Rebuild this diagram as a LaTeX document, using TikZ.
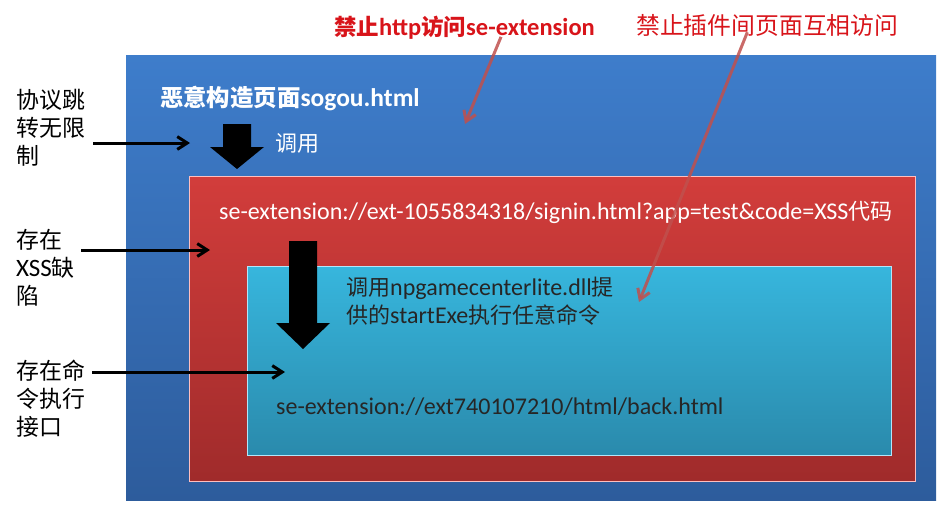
\documentclass[tikz,border=0pt]{standalone}
\usepackage{fontspec}
\setmainfont{Carlito}
\newfontfamily\cjk{Noto Sans CJK SC}[Scale=0.917]
\usetikzlibrary{arrows.meta}
\definecolor{bluetop}{HTML}{3E7DCB}
\definecolor{bluebot}{HTML}{2D5C9C}
\definecolor{redtop}{HTML}{D23D3B}
\definecolor{redbot}{HTML}{A02B2B}
\definecolor{cyantop}{HTML}{37B6DD}
\definecolor{cyanbot}{HTML}{2A8AAC}
\definecolor{warn}{HTML}{D8141A}
\definecolor{pinred}{HTML}{C0504D}
\newcommand{\zh}[1]{{\cjk #1}}
\newcommand{\blk}[4]{\fill (#1-14,#2)--(#1+14,#2)--(#1+14,#3)--(#1+27,#3)--(#1,#4)--(#1-27,#3)--(#1-14,#3)--cycle;}
\tikzset{txt/.style={inner sep=0pt,anchor=west,font=\fontsize{24}{28}\selectfont},
  darr/.style={-{Straight Barb[length=3.5mm,width=4.5mm]},line width=3pt},
  pinarr/.style={-{Straight Barb[length=3.5mm,width=4.5mm]},line width=3pt,draw=pinred,opacity=0.85}}

\begin{document}
\begin{tikzpicture}[x=1pt,y=-1pt]
\useasboundingbox (0,0) rectangle (941,509);
\shade[top color=bluetop,bottom color=bluebot] (126,55) rectangle (936,500);
\shade[top color=redtop,bottom color=redbot,draw=red!25,line width=0.6pt] (189,176) rectangle (915,481);
\shade[top color=cyantop,bottom color=cyanbot,draw=white!70!cyan,line width=0.6pt] (247,266) rectangle (891,455);
\blk{237}{124}{147}{169}
\blk{303}{241}{323}{349}
\node[txt,warn,font=\fontsize{24.5}{28}\selectfont\bfseries] (ban1) at (334,28) {\zh{禁止}http\zh{访问}se-extension};
\node[txt,warn,font=\fontsize{26}{28}\selectfont] (ban2) at (636,25) {\zh{禁止插件间页面互相访问}};
\node[txt,white,font=\fontsize{25.5}{28}\selectfont\bfseries] (page) at (160,98) {\zh{恶意构造页面}sogou.html};
\node[txt,white] (call1) at (275,143) {\zh{调用}};
\node[txt,white] (url1) at (219,212) {se-extension://ext-1055834318/signin.html?app=test\&code=XSS\zh{代码}};
\node[txt,black!85,align=left] (call2) at (346,301) {\zh{调用}npgamecenterlite.dll\zh{提}\\\zh{供的}startExe\zh{执行任意命令}};
\node[txt,black!85] (url2) at (276,407) {se-extension://ext740107210/html/back.html};
\node[txt,align=left,font=\fontsize{25}{28}\selectfont] (lab1) at (16,128) {\zh{协议跳}\\\zh{转无限}\\\zh{制}};
\node[txt,align=left,font=\fontsize{25}{28}\selectfont] (lab2) at (16,268) {\zh{存在}\\XSS\zh{缺}\\\zh{陷}};
\node[txt,align=left,font=\fontsize{25}{28}\selectfont] (lab3) at (16,399) {\zh{存在命}\\\zh{令执行}\\\zh{接口}};
\coordinate (t1) at (190,143); \coordinate (t2) at (210,250); \coordinate (t3) at (285,372);
\coordinate (p1) at (465,124); \coordinate (p2) at (639,302);
\draw[darr] ([xshift=8pt]lab1.east |- t1) -- (t1);
\draw[darr] ([xshift=6pt]lab2.east |- t2) -- (t2);
\draw[darr] ([xshift=7pt]lab3.east |- t3) -- (t3);
\draw[pinarr] ([xshift=-94pt,yshift=3pt]ban1.south east) -- (p1);
\draw[pinarr] ([xshift=-20pt,yshift=4pt]ban2.south) -- (p2);
\end{tikzpicture}
\end{document}
